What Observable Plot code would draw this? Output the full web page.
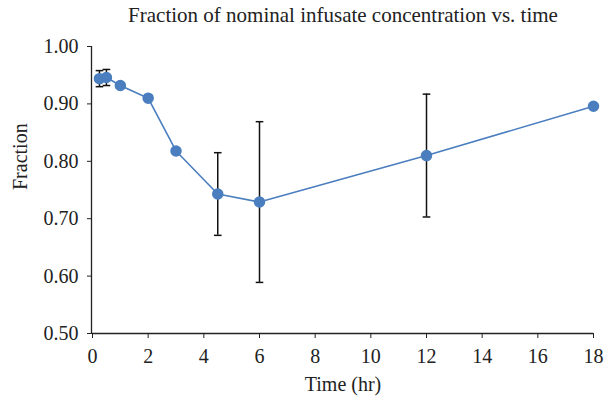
<!DOCTYPE html>
<html>
<head>
<meta charset="utf-8">
<script src="https://cdn.jsdelivr.net/npm/d3@7"></script>
<script src="https://cdn.jsdelivr.net/npm/@observablehq/plot@0.6"></script>
<style>
  html, body { margin: 0; padding: 0; background: #fff; }
  svg { font-family: "Liberation Serif", "DejaVu Serif", serif; }
</style>
</head>
<body>
<div id="chart"></div>
<script>
const title = "Fraction of nominal infusate concentration vs. time";
const times = [0.25, 0.5, 1, 2, 3, 4.5, 6, 12, 18];
const fractions = [0.944, 0.946, 0.932, 0.910, 0.818, 0.743, 0.729, 0.810, 0.896];
const errors = [0.014, 0.014, null, null, null, 0.072, 0.140, 0.107, null];
const xTicks = [0, 2, 4, 6, 8, 10, 12, 14, 16, 18];
const yTicks = [0.5, 0.6, 0.7, 0.8, 0.9, 1.0];

const data = times.map((t, i) => ({t, f: fractions[i], e: errors[i]}));
const errData = data.filter(d => d.e != null);

const capSymbol = {
  draw(ctx, size) {
    const w = Math.sqrt(size / Math.PI);
    ctx.moveTo(-w, 0);
    ctx.lineTo(w, 0);
  }
};

const chart = Plot.plot({
  width: 605,
  height: 404,
  marginTop: 46,
  marginBottom: 71,
  marginLeft: 92,
  marginRight: 12,
  style: {fontFamily: "'Liberation Serif', 'DejaVu Serif', serif", fontSize: "20px", color: "#222"},
  x: {domain: [0, 18]},
  y: {domain: [0.5, 1.0]},
  marks: [
    Plot.axisX({ticks: xTicks, tickSize: 5, tickPadding: 10, tickFormat: d3.format("d"), label: null, fontSize: 20}),
    Plot.axisY({ticks: yTicks, tickSize: 5, tickPadding: 9, tickFormat: d3.format(".2f"), label: null, fontSize: 20}),
    Plot.ruleY([0.5], {stroke: "#222", strokeWidth: 1.3}),
    Plot.ruleX([0], {dx: -1, stroke: "#222", strokeWidth: 1.3}),
    Plot.line(data, {x: "t", y: "f", stroke: "#4a7ebf", strokeWidth: 1.6}),
    Plot.ruleX(errData, {x: "t", y1: d => d.f - d.e, y2: d => d.f + d.e, stroke: "#111", strokeWidth: 1.5}),
    Plot.dot(errData, {x: "t", y: d => d.f - d.e, symbol: capSymbol, r: 3.8, stroke: "#111", strokeWidth: 1.5}),
    Plot.dot(errData, {x: "t", y: d => d.f + d.e, symbol: capSymbol, r: 3.8, stroke: "#111", strokeWidth: 1.5}),
    Plot.dot(data, {x: "t", y: "f", r: 5, fill: "#4a7ebf", stroke: "#4a7ebf"}),
    Plot.text([title], {frameAnchor: "top", lineAnchor: "middle", dy: -31, fontSize: 21, fill: "#222"}),
    Plot.text(["Fraction"], {frameAnchor: "left", dx: -72, rotate: -90, fontSize: 20, fill: "#222"}),
    Plot.text(["Time (hr)"], {frameAnchor: "bottom", lineAnchor: "middle", dy: 51, fontSize: 20, fill: "#222"})
  ]
});
document.getElementById("chart").appendChild(chart);
</script>
</body>
</html>
